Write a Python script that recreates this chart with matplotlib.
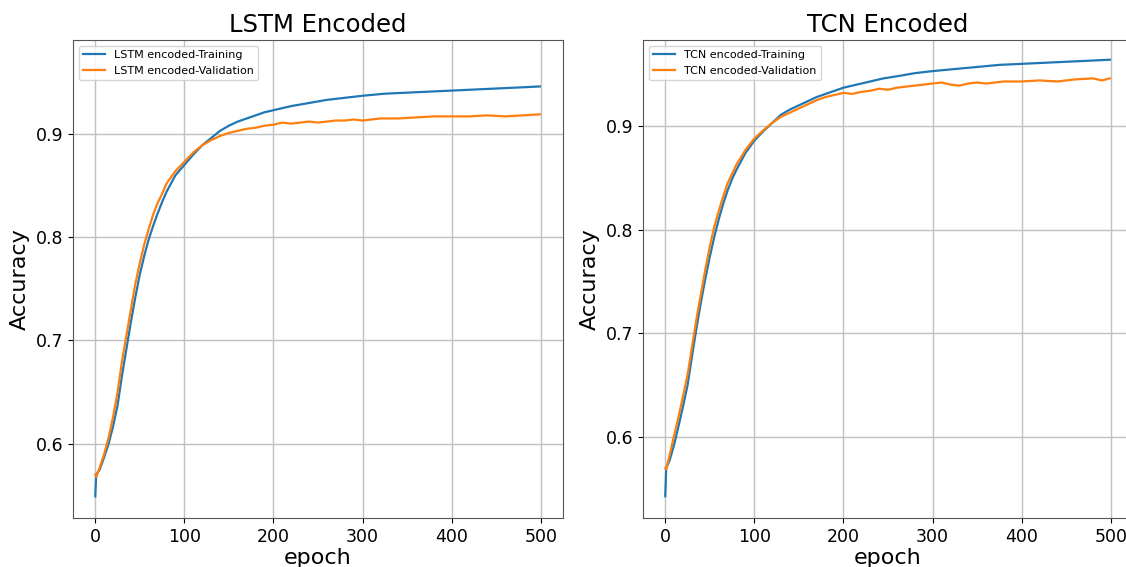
import matplotlib
matplotlib.use("Agg")
import matplotlib.pyplot as plt

W, H = 1126, 567

# LSTM encoded
lstm_ep_tr = [0, 1, 5, 10, 15, 20, 25, 30, 35, 40, 45, 50, 55, 60, 65, 70, 75, 80, 90,
              100, 110, 120, 130, 140, 150, 160, 170, 180, 190, 200, 220, 240, 260, 280,
              300, 325, 350, 375, 400, 425, 450, 475, 499]
lstm_train = [0.549, 0.570, 0.575, 0.587, 0.600, 0.617, 0.637, 0.666, 0.692, 0.718, 0.742,
              0.764, 0.782, 0.798, 0.811, 0.823, 0.834, 0.844, 0.860, 0.870, 0.880, 0.889,
              0.896, 0.903, 0.908, 0.912, 0.915, 0.918, 0.921, 0.923, 0.927, 0.930, 0.933,
              0.935, 0.937, 0.939, 0.940, 0.941, 0.942, 0.943, 0.944, 0.945, 0.946]
lstm_ep_val = [0, 1, 5, 10, 15, 20, 25, 30, 35, 40, 45, 50, 55, 60, 65, 70, 75, 80, 90,
               100, 110, 120, 130, 140, 150, 160, 170, 180, 190, 200, 210, 220, 230, 240,
               250, 260, 270, 280, 290, 300, 320, 340, 360, 380, 400, 420, 440, 460, 480, 499]
lstm_val = [0.570, 0.568, 0.577, 0.590, 0.606, 0.626, 0.650, 0.680, 0.705, 0.730, 0.755,
            0.775, 0.793, 0.808, 0.822, 0.833, 0.842, 0.852, 0.864, 0.873, 0.882, 0.889,
            0.894, 0.898, 0.901, 0.903, 0.905, 0.906, 0.908, 0.909, 0.911, 0.910, 0.911,
            0.912, 0.911, 0.912, 0.913, 0.913, 0.914, 0.913, 0.915, 0.915, 0.916, 0.917,
            0.917, 0.917, 0.918, 0.917, 0.918, 0.919]

# TCN encoded
tcn_ep_tr = [0, 1, 5, 10, 15, 20, 25, 30, 35, 40, 45, 50, 55, 60, 65, 70, 75, 80, 90,
             100, 110, 120, 130, 140, 150, 160, 170, 180, 190, 200, 220, 245, 260, 280,
             300, 325, 350, 375, 400, 425, 450, 475, 499]
tcn_train = [0.543, 0.570, 0.578, 0.593, 0.611, 0.630, 0.650, 0.678, 0.705, 0.730, 0.753,
             0.774, 0.793, 0.810, 0.825, 0.838, 0.849, 0.858, 0.874, 0.886, 0.895, 0.903,
             0.911, 0.916, 0.920, 0.924, 0.928, 0.931, 0.934, 0.937, 0.941, 0.946, 0.948,
             0.951, 0.953, 0.955, 0.957, 0.959, 0.960, 0.961, 0.962, 0.963, 0.964]
tcn_ep_val = [0, 1, 5, 10, 15, 20, 25, 30, 35, 40, 45, 50, 55, 60, 65, 70, 75, 80, 90,
              100, 110, 120, 130, 140, 150, 160, 170, 180, 190, 200, 210, 220, 230, 240,
              250, 260, 270, 280, 290, 300, 310, 320, 330, 340, 350, 360, 380, 400, 420,
              440, 460, 480, 490, 499]
tcn_val = [0.570, 0.569, 0.583, 0.602, 0.620, 0.640, 0.660, 0.687, 0.714, 0.738, 0.762,
           0.784, 0.803, 0.818, 0.832, 0.845, 0.854, 0.863, 0.877, 0.888, 0.896, 0.903,
           0.909, 0.913, 0.917, 0.921, 0.925, 0.928, 0.930, 0.932, 0.931, 0.933, 0.934,
           0.936, 0.935, 0.937, 0.938, 0.939, 0.940, 0.941, 0.942, 0.940, 0.939, 0.941,
           0.942, 0.941, 0.943, 0.943, 0.944, 0.943, 0.945, 0.946, 0.944, 0.946]

panels = [
    ("LSTM Encoded", "LSTM encoded", lstm_ep_tr, lstm_train, lstm_ep_val, lstm_val,
     73, (0.528, 0.991)),
    ("TCN Encoded", "TCN encoded", tcn_ep_tr, tcn_train, tcn_ep_val, tcn_val,
     643, (0.522, 0.983)),
]

fig = plt.figure(figsize=(W / 100, H / 100), dpi=100)

for title, name, ep_tr, y_tr, ep_val, y_val, left_px, ylim in panels:
    ax = fig.add_axes([left_px / W, 1 - 518 / H, 490 / W, 478 / H])
    ax.plot(ep_tr, y_tr, color="#1f77b4", lw=1.6, label=f"{name}-Training")
    ax.plot(ep_val, y_val, color="#ff7f0e", lw=1.6, label=f"{name}-Validation")
    ax.set_xlim(-25, 525)
    ax.set_ylim(*ylim)
    ax.set_xticks([0, 100, 200, 300, 400, 500])
    ax.set_yticks([0.6, 0.7, 0.8, 0.9])
    ax.set_title(title, fontsize=17.5)
    ax.set_xlabel("epoch", fontsize=16, labelpad=2)
    ax.set_ylabel("Accuracy", fontsize=16)
    ax.tick_params(labelsize=12.5)
    ax.grid(True, color="#c0c0c0", lw=1)
    ax.set_axisbelow(True)
    for s in ax.spines.values():
        s.set_color("#555555")
    ax.legend(loc="upper left", fontsize=8)

fig.savefig("out.png", dpi=100)
